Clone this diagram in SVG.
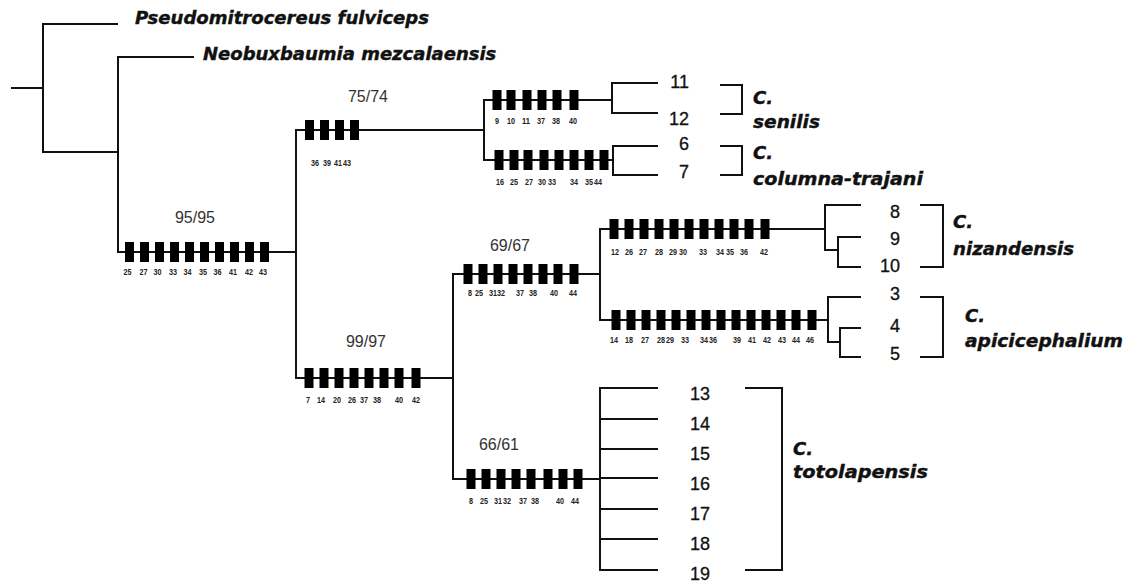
<svg xmlns="http://www.w3.org/2000/svg" xmlns:xlink="http://www.w3.org/1999/xlink" width="1138" height="582" viewBox="0 0 1138 582">
<style>
.ln{fill:none;stroke:#111;stroke-width:2;stroke-linecap:square}
.br{fill:none;stroke:#111;stroke-width:2}
.sp{font-family:"DejaVu Sans",sans-serif;font-weight:bold;font-style:italic;font-size:18px;fill:#111;stroke:#111;stroke-width:0.4}
.num{font-family:"Liberation Sans",Arial,sans-serif;font-size:18px;fill:#111;stroke:#111;stroke-width:0.3;text-anchor:end}
.bs{font-family:"Liberation Sans",Arial,sans-serif;font-size:16px;fill:#333;text-anchor:middle}
.ml{font-family:"Liberation Sans",Arial,sans-serif;font-weight:bold;font-size:9px;fill:#222;text-anchor:middle}
</style>
<defs>
<rect id="mk" x="-4.5" y="-10" width="9" height="20" fill="#000"/>
</defs>
<rect width="1138" height="582" fill="#fff"/>

<g id="connectors">
<path class="ln" d="M12,88H43M43,24V152M43,24H117M43,152H118M118,57V252M118,57H193"/>
<path class="ln" d="M118,252H296M296,130V378M296,130H484M484,100V160M484,100H612M484,160H613"/>
<path class="ln" d="M612,83V113M612,83H657M612,113H657M613,146V175M613,146H657M613,175H657"/>
<path class="ln" d="M296,378H453M453,274V479M453,274H600M600,229V320M600,229H825M600,320H828"/>
<path class="ln" d="M825,205V250M825,205H860M825,250H838M838,237V267M838,237H860M838,267H860"/>
<path class="ln" d="M828,297V342M828,297H860M828,342H840M840,328V357M840,328H860M840,357H860"/>
<path class="ln" d="M453,479H600M600,388V570M600,388H657M600,419H657M600,449H657M600,478H657M600,509H657M600,539H657M600,570H657"/>
</g>

<g id="outgroup1"><text class="sp" x="135" y="24" textLength="294" lengthAdjust="spacingAndGlyphs">Pseudomitrocereus fulviceps</text></g>
<g id="outgroup2"><text class="sp" x="203" y="60">Neobuxbaumia mezcalaensis</text></g>

<g id="node-95-95">
<text class="bs" x="195" y="223">95/95</text>
<use xlink:href="#mk" x="129.5" y="252"/><use xlink:href="#mk" x="144.5" y="252"/><use xlink:href="#mk" x="159.5" y="252"/><use xlink:href="#mk" x="174.5" y="252"/><use xlink:href="#mk" x="189.5" y="252"/><use xlink:href="#mk" x="204.5" y="252"/><use xlink:href="#mk" x="219.5" y="252"/><use xlink:href="#mk" x="234.5" y="252"/><use xlink:href="#mk" x="249.5" y="252"/><use xlink:href="#mk" x="264.5" y="252"/>
<g class="ml">
<text x="127.5" y="275" textLength="8" lengthAdjust="spacingAndGlyphs">25</text><text x="143.5" y="275" textLength="8" lengthAdjust="spacingAndGlyphs">27</text><text x="157.5" y="275" textLength="8" lengthAdjust="spacingAndGlyphs">30</text><text x="173" y="275" textLength="8" lengthAdjust="spacingAndGlyphs">33</text><text x="187.5" y="275" textLength="8" lengthAdjust="spacingAndGlyphs">34</text><text x="203" y="275" textLength="8" lengthAdjust="spacingAndGlyphs">35</text><text x="217.5" y="275" textLength="8" lengthAdjust="spacingAndGlyphs">36</text><text x="233" y="275" textLength="8" lengthAdjust="spacingAndGlyphs">41</text><text x="249" y="275" textLength="8" lengthAdjust="spacingAndGlyphs">42</text><text x="263" y="275" textLength="8" lengthAdjust="spacingAndGlyphs">43</text>
</g>
</g>

<g id="node-75-74">
<text class="bs" x="368" y="102">75/74</text>
<use xlink:href="#mk" x="309.5" y="130"/><use xlink:href="#mk" x="324.5" y="130"/><use xlink:href="#mk" x="339.5" y="130"/><use xlink:href="#mk" x="354.5" y="130"/>
<g class="ml">
<text x="315" y="166" textLength="8" lengthAdjust="spacingAndGlyphs">36</text><text x="327" y="166" textLength="8" lengthAdjust="spacingAndGlyphs">39</text><text x="338" y="166" textLength="8" lengthAdjust="spacingAndGlyphs">41</text><text x="347" y="166" textLength="8" lengthAdjust="spacingAndGlyphs">43</text>
</g>
</g>

<g id="node-senilis">
<use xlink:href="#mk" x="497" y="100"/><use xlink:href="#mk" x="511" y="100"/><use xlink:href="#mk" x="527" y="100"/><use xlink:href="#mk" x="542" y="100"/><use xlink:href="#mk" x="557" y="100"/><use xlink:href="#mk" x="574" y="100"/>
<g class="ml">
<text x="497" y="124" textLength="4" lengthAdjust="spacingAndGlyphs">9</text><text x="511" y="124" textLength="8" lengthAdjust="spacingAndGlyphs">10</text><text x="526" y="124" textLength="8" lengthAdjust="spacingAndGlyphs">11</text><text x="541" y="124" textLength="8" lengthAdjust="spacingAndGlyphs">37</text><text x="556" y="124" textLength="8" lengthAdjust="spacingAndGlyphs">38</text><text x="573" y="124" textLength="8" lengthAdjust="spacingAndGlyphs">40</text>
</g>
<text class="num" x="689" y="88">11</text>
<text class="num" x="689" y="125">12</text>
<path class="br" d="M720,85H742V114H720"/>
<text class="sp" x="753" y="104">C.</text>
<text class="sp" x="753" y="128" textLength="67" lengthAdjust="spacingAndGlyphs">senilis</text>
</g>

<g id="node-columna-trajani">
<use xlink:href="#mk" x="499" y="160"/><use xlink:href="#mk" x="514" y="160"/><use xlink:href="#mk" x="528" y="160"/><use xlink:href="#mk" x="544" y="160"/><use xlink:href="#mk" x="559" y="160"/><use xlink:href="#mk" x="574" y="160"/><use xlink:href="#mk" x="589" y="160"/><use xlink:href="#mk" x="604" y="160"/>
<g class="ml">
<text x="500" y="185" textLength="8" lengthAdjust="spacingAndGlyphs">16</text><text x="514" y="185" textLength="8" lengthAdjust="spacingAndGlyphs">25</text><text x="529" y="185" textLength="8" lengthAdjust="spacingAndGlyphs">27</text><text x="542" y="185" textLength="8" lengthAdjust="spacingAndGlyphs">30</text><text x="552" y="185" textLength="8" lengthAdjust="spacingAndGlyphs">33</text><text x="574" y="185" textLength="8" lengthAdjust="spacingAndGlyphs">34</text><text x="589" y="185" textLength="8" lengthAdjust="spacingAndGlyphs">35</text><text x="598" y="185" textLength="8" lengthAdjust="spacingAndGlyphs">44</text>
</g>
<text class="num" x="689" y="150">6</text>
<text class="num" x="689" y="178">7</text>
<path class="br" d="M720,146H742V175H720"/>
<text class="sp" x="753" y="159">C.</text>
<text class="sp" x="753" y="185" textLength="170" lengthAdjust="spacingAndGlyphs">columna-trajani</text>
</g>

<g id="node-99-97">
<text class="bs" x="366" y="347">99/97</text>
<use xlink:href="#mk" x="309" y="378"/><use xlink:href="#mk" x="324" y="378"/><use xlink:href="#mk" x="339" y="378"/><use xlink:href="#mk" x="354" y="378"/><use xlink:href="#mk" x="369" y="378"/><use xlink:href="#mk" x="384" y="378"/><use xlink:href="#mk" x="399" y="378"/><use xlink:href="#mk" x="416" y="378"/>
<g class="ml">
<text x="308" y="403" textLength="4" lengthAdjust="spacingAndGlyphs">7</text><text x="321" y="403" textLength="8" lengthAdjust="spacingAndGlyphs">14</text><text x="337" y="403" textLength="8" lengthAdjust="spacingAndGlyphs">20</text><text x="352" y="403" textLength="8" lengthAdjust="spacingAndGlyphs">26</text><text x="364" y="403" textLength="8" lengthAdjust="spacingAndGlyphs">37</text><text x="377" y="403" textLength="8" lengthAdjust="spacingAndGlyphs">38</text><text x="399" y="403" textLength="8" lengthAdjust="spacingAndGlyphs">40</text><text x="416" y="403" textLength="8" lengthAdjust="spacingAndGlyphs">42</text>
</g>
</g>

<g id="node-69-67">
<text class="bs" x="510" y="251">69/67</text>
<use xlink:href="#mk" x="468" y="274"/><use xlink:href="#mk" x="483" y="274"/><use xlink:href="#mk" x="498" y="274"/><use xlink:href="#mk" x="513" y="274"/><use xlink:href="#mk" x="528" y="274"/><use xlink:href="#mk" x="543" y="274"/><use xlink:href="#mk" x="558" y="274"/><use xlink:href="#mk" x="574" y="274"/>
<g class="ml">
<text x="470" y="296" textLength="4" lengthAdjust="spacingAndGlyphs">8</text><text x="479" y="296" textLength="8" lengthAdjust="spacingAndGlyphs">25</text><text x="493" y="296" textLength="8" lengthAdjust="spacingAndGlyphs">31</text><text x="501" y="296" textLength="8" lengthAdjust="spacingAndGlyphs">32</text><text x="520" y="296" textLength="8" lengthAdjust="spacingAndGlyphs">37</text><text x="533" y="296" textLength="8" lengthAdjust="spacingAndGlyphs">38</text><text x="554" y="296" textLength="8" lengthAdjust="spacingAndGlyphs">40</text><text x="573" y="296" textLength="8" lengthAdjust="spacingAndGlyphs">44</text>
</g>
</g>

<g id="node-nizandensis">
<use xlink:href="#mk" x="614" y="229"/><use xlink:href="#mk" x="629" y="229"/><use xlink:href="#mk" x="644" y="229"/><use xlink:href="#mk" x="659" y="229"/><use xlink:href="#mk" x="674" y="229"/><use xlink:href="#mk" x="689" y="229"/><use xlink:href="#mk" x="704" y="229"/><use xlink:href="#mk" x="719" y="229"/><use xlink:href="#mk" x="734" y="229"/><use xlink:href="#mk" x="749" y="229"/><use xlink:href="#mk" x="765" y="229"/>
<g class="ml">
<text x="615" y="255" textLength="8" lengthAdjust="spacingAndGlyphs">12</text><text x="629" y="255" textLength="8" lengthAdjust="spacingAndGlyphs">26</text><text x="643" y="255" textLength="8" lengthAdjust="spacingAndGlyphs">27</text><text x="659" y="255" textLength="8" lengthAdjust="spacingAndGlyphs">28</text><text x="673" y="255" textLength="8" lengthAdjust="spacingAndGlyphs">29</text><text x="683" y="255" textLength="8" lengthAdjust="spacingAndGlyphs">30</text><text x="703" y="255" textLength="8" lengthAdjust="spacingAndGlyphs">33</text><text x="720" y="255" textLength="8" lengthAdjust="spacingAndGlyphs">34</text><text x="730" y="255" textLength="8" lengthAdjust="spacingAndGlyphs">35</text><text x="744" y="255" textLength="8" lengthAdjust="spacingAndGlyphs">36</text><text x="764" y="255" textLength="8" lengthAdjust="spacingAndGlyphs">42</text>
</g>
<text class="num" x="900" y="218">8</text>
<text class="num" x="900" y="245">9</text>
<text class="num" x="900" y="272">10</text>
<path class="br" d="M920,205H943V267H920"/>
<text class="sp" x="953" y="228">C.</text>
<text class="sp" x="953" y="255" textLength="121" lengthAdjust="spacingAndGlyphs">nizandensis</text>
</g>

<g id="node-apicicephalium">
<use xlink:href="#mk" x="616" y="320"/><use xlink:href="#mk" x="631" y="320"/><use xlink:href="#mk" x="646" y="320"/><use xlink:href="#mk" x="661" y="320"/><use xlink:href="#mk" x="676" y="320"/><use xlink:href="#mk" x="691" y="320"/><use xlink:href="#mk" x="706" y="320"/><use xlink:href="#mk" x="721" y="320"/><use xlink:href="#mk" x="736" y="320"/><use xlink:href="#mk" x="751" y="320"/><use xlink:href="#mk" x="766" y="320"/><use xlink:href="#mk" x="781" y="320"/><use xlink:href="#mk" x="796" y="320"/><use xlink:href="#mk" x="812" y="320"/>
<g class="ml">
<text x="614" y="343" textLength="8" lengthAdjust="spacingAndGlyphs">14</text><text x="629" y="343" textLength="8" lengthAdjust="spacingAndGlyphs">18</text><text x="645" y="343" textLength="8" lengthAdjust="spacingAndGlyphs">27</text><text x="661" y="343" textLength="8" lengthAdjust="spacingAndGlyphs">28</text><text x="670" y="343" textLength="8" lengthAdjust="spacingAndGlyphs">29</text><text x="685" y="343" textLength="8" lengthAdjust="spacingAndGlyphs">33</text><text x="704" y="343" textLength="8" lengthAdjust="spacingAndGlyphs">34</text><text x="713" y="343" textLength="8" lengthAdjust="spacingAndGlyphs">36</text><text x="737" y="343" textLength="8" lengthAdjust="spacingAndGlyphs">39</text><text x="752" y="343" textLength="8" lengthAdjust="spacingAndGlyphs">41</text><text x="767" y="343" textLength="8" lengthAdjust="spacingAndGlyphs">42</text><text x="782" y="343" textLength="8" lengthAdjust="spacingAndGlyphs">43</text><text x="796" y="343" textLength="8" lengthAdjust="spacingAndGlyphs">44</text><text x="810" y="343" textLength="8" lengthAdjust="spacingAndGlyphs">46</text>
</g>
<text class="num" x="900" y="300">3</text>
<text class="num" x="900" y="332">4</text>
<text class="num" x="900" y="360">5</text>
<path class="br" d="M920,297H943V357H920"/>
<text class="sp" x="965" y="322">C.</text>
<text class="sp" x="965" y="347" textLength="158" lengthAdjust="spacingAndGlyphs">apicicephalium</text>
</g>

<g id="node-66-61">
<text class="bs" x="499" y="450">66/61</text>
<use xlink:href="#mk" x="471" y="479"/><use xlink:href="#mk" x="486" y="479"/><use xlink:href="#mk" x="501" y="479"/><use xlink:href="#mk" x="516" y="479"/><use xlink:href="#mk" x="531" y="479"/><use xlink:href="#mk" x="548" y="479"/><use xlink:href="#mk" x="563" y="479"/><use xlink:href="#mk" x="578" y="479"/>
<g class="ml">
<text x="471" y="504" textLength="4" lengthAdjust="spacingAndGlyphs">8</text><text x="484" y="504" textLength="8" lengthAdjust="spacingAndGlyphs">25</text><text x="498" y="504" textLength="8" lengthAdjust="spacingAndGlyphs">31</text><text x="507" y="504" textLength="8" lengthAdjust="spacingAndGlyphs">32</text><text x="523" y="504" textLength="8" lengthAdjust="spacingAndGlyphs">37</text><text x="535" y="504" textLength="8" lengthAdjust="spacingAndGlyphs">38</text><text x="560" y="504" textLength="8" lengthAdjust="spacingAndGlyphs">40</text><text x="575" y="504" textLength="8" lengthAdjust="spacingAndGlyphs">44</text>
</g>
</g>

<g id="node-totolapensis">
<text class="num" x="710" y="400">13</text>
<text class="num" x="710" y="430">14</text>
<text class="num" x="710" y="460">15</text>
<text class="num" x="710" y="490">16</text>
<text class="num" x="710" y="520">17</text>
<text class="num" x="710" y="550">18</text>
<text class="num" x="710" y="580">19</text>
<path class="br" d="M745,388H782V570H745"/>
<text class="sp" x="793" y="455">C.</text>
<text class="sp" x="793" y="478" textLength="135" lengthAdjust="spacingAndGlyphs">totolapensis</text>
</g>
</svg>
